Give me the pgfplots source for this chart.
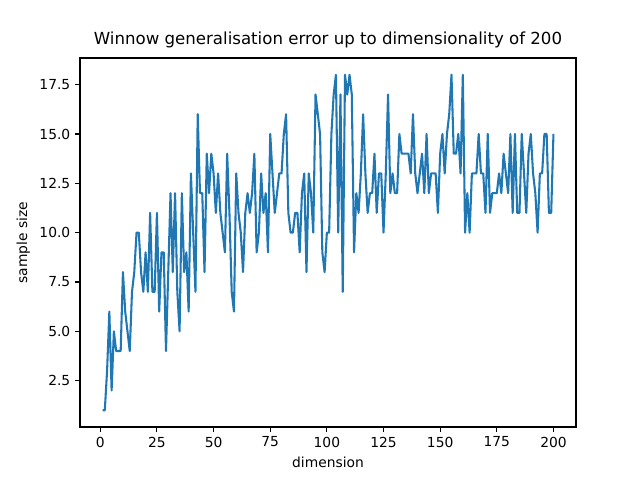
\documentclass[border=0pt]{standalone}
\usepackage{pgfplots}
\pgfplotsset{compat=1.18}
\usepackage{fontspec}
\setmainfont{DejaVu Sans}
\definecolor{mplblue}{HTML}{1F77B4}
\begin{document}
\begin{tikzpicture}
\path (0,0) rectangle (6.4in,4.8in);
\begin{axis}[at={(0.8in,0.53in)},anchor=south west,
 scale only axis, width=4.96in, height=3.69in,
 xmin=-8.95, xmax=209.95, ymin=0.15, ymax=18.85,
 xtick={0,25,...,200}, ytick={2.5,5,...,17.5},
 yticklabel style={/pgf/number format/.cd,fixed,fixed zerofill,precision=1},
 /pgf/number format/assume math mode=true,
 tick align=outside, tick pos=left, major tick length=3.5pt,
 tick style={black,line width=0.8pt},
 axis line style={line width=0.8pt},
 ticklabel style={font=\fontsize{10}{12}\selectfont},
 title={Winnow generalisation error up to dimensionality of 200},
 title style={font=\fontsize{12}{14}\selectfont, yshift=-2pt},
 xlabel={dimension}, ylabel={sample size},
 label style={font=\fontsize{10}{12}\selectfont},
]
\addplot[mplblue, line width=1.5pt, line join=round] table {
x y
1 1
2 1
3 3
4 6
5 2
6 5
7 4
8 4
9 4
10 8
11 6
12 5
13 4
14 7
15 8
16 10
17 10
18 8
19 7
20 9
21 7
22 11
23 7
24 7
25 11
26 6
27 9
28 9
29 4
30 8
31 12
32 8
33 12
34 7
35 5
36 12
37 8
38 9
39 6
40 13
41 10
42 7
43 16
44 12
45 12
46 8
47 14
48 12
49 14
50 13
51 11
52 13
53 11
54 10
55 9
56 14
57 11
58 7
59 6
60 13
61 11
62 10
63 8
64 11
65 12
66 11
67 12
68 14
69 9
70 10
71 13
72 11
73 12
74 9
75 15
76 13
77 11
78 12
79 13
80 13
81 15
82 16
83 11
84 10
85 10
86 11
87 11
88 9
89 12
90 13
91 8
92 13
93 12
94 10
95 17
96 16
97 15
98 9
99 8
100 10
101 10
102 15
103 17
104 18
105 10
106 17
107 7
108 18
109 17
110 18
111 17
112 9
113 12
114 11
115 13
116 16
117 13
118 11
119 12
120 12
121 14
122 11
123 13
124 13
125 10
126 13
127 17
128 12
129 13
130 12
131 12
132 15
133 14
134 14
135 14
136 14
137 13
138 16
139 13
140 12
141 13
142 14
143 12
144 15
145 12
146 13
147 13
148 13
149 11
150 14
151 15
152 13
153 15
154 16
155 18
156 14
157 14
158 15
159 13
160 18
161 10
162 12
163 10
164 13
165 13
166 13
167 15
168 13
169 13
170 11
171 15
172 11
173 12
174 12
175 12
176 13
177 12
178 14
179 13
180 12
181 15
182 11
183 15
184 11
185 11
186 15
187 13
188 11
189 14
190 15
191 13
192 12
193 10
194 13
195 13
196 15
197 15
198 11
199 11
200 15
};
\end{axis}
\end{tikzpicture}
\end{document}
